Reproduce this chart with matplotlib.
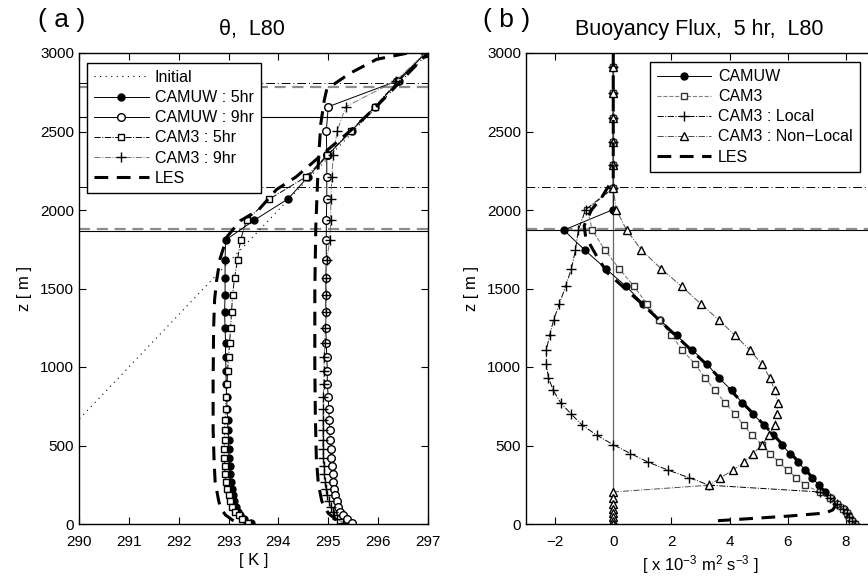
import numpy as np
import matplotlib.pyplot as plt

plt.rcParams['font.family'] = ['Liberation Sans', 'DejaVu Sans']
plt.rcParams['mathtext.fontset'] = 'custom'
plt.rcParams['mathtext.rm'] = 'Liberation Sans'
plt.rcParams['mathtext.it'] = 'Liberation Sans:italic'

# ---- panel (a): potential temperature on model mid levels ----
z_mid = [2998, 2822, 2658, 2505, 2350, 2210, 2070, 1936, 1809, 1682, 1569, 1459,
         1350, 1250, 1153, 1064, 975, 892, 810, 734, 664, 597, 533, 478,
         420, 369, 318, 270, 225, 183, 145, 110, 78, 57, 34, 8]
camuw_5hr = [296.94, 296.42, 295.94, 295.47, 294.99, 294.59, 294.19, 293.52, 292.94, 292.93,
             292.93, 292.93, 292.92, 292.93, 292.94, 292.94, 292.95, 292.95, 292.96, 292.97,
             292.98, 292.99, 293.00, 293.00, 293.01, 293.02, 293.03, 293.04, 293.06, 293.08,
             293.11, 293.14, 293.18, 293.23, 293.30, 293.45]
camuw_9hr = [296.95, 296.38, 295.00, 294.96, 294.97, 294.97, 294.97, 294.96, 294.96, 294.96,
             294.95, 294.95, 294.95, 294.95, 294.96, 294.97, 294.98, 294.98, 295.00, 295.01,
             295.02, 295.03, 295.04, 295.05, 295.06, 295.07, 295.09, 295.10, 295.12, 295.14,
             295.17, 295.20, 295.24, 295.30, 295.37, 295.47]
cam3_5hr = [296.94, 296.40, 295.93, 295.45, 294.98, 294.55, 293.82, 293.36, 293.24, 293.18,
            293.12, 293.08, 293.06, 293.04, 293.02, 293.00, 292.98, 292.97, 292.95, 292.94,
            292.93, 292.92, 292.92, 292.91, 292.91, 292.92, 292.93, 292.94, 292.96, 293.00,
            293.03, 293.07, 293.13, 293.20, 293.26, 293.38]
cam3_9hr = [296.94, 296.35, 295.35, 295.18, 295.10, 295.07, 295.05, 295.05, 295.03, 294.97,
            294.96, 294.96, 294.95, 294.94, 294.93, 294.92, 294.91, 294.91, 294.90, 294.90,
            294.89, 294.89, 294.89, 294.89, 294.90, 294.91, 294.92, 294.93, 294.95, 294.98,
            295.01, 295.05, 295.09, 295.12, 295.17, 295.30]
init_z = [0, 3000]
init_T = [288.0, 297.0]
les5_z = [20, 57, 100, 150, 270, 400, 600, 900, 1250, 1430, 1550, 1690, 1830, 1930,
          2000, 2130, 2210, 2360, 2520, 2660, 2820, 3000]
les5_T = [293.10, 292.94, 292.84, 292.80, 292.73, 292.71, 292.69, 292.69, 292.70, 292.72,
          292.76, 292.83, 292.97, 293.23, 293.60, 293.96, 294.35, 294.90, 295.50, 295.97,
          296.45, 297.00]
les9_z = [25, 68, 145, 257, 420, 700, 1000, 1500, 1900, 2300, 2550, 2700, 2770, 2870, 2960, 3000]
les9_T = [295.17, 295.00, 294.87, 294.80, 294.76, 294.74, 294.73, 294.73, 294.75, 294.80,
          294.85, 294.92, 294.97, 295.43, 295.97, 296.60]
pbl_a_solid = [1866, 2590]
pbl_a_dashdot = [2146, 2808]
pbl_a_gray = [1878, 2783]

# ---- panel (b): buoyancy flux on interfaces ----
z_int = [3080, 2913, 2744, 2584, 2435, 2287, 2140, 2003, 1872, 1745, 1625, 1514, 1404,
         1300, 1201, 1108, 1020, 933, 851, 772, 699, 630, 565, 505, 449, 394, 343, 294,
         247, 204, 164, 128, 94, 67, 46, 21, 0]
camuw_b = [0, 0, 0, 0, 0, 0, 0, 0, -1.70, -0.98, -0.25, 0.44, 1.03, 1.60, 2.18, 2.72, 3.22,
           3.62, 4.07, 4.43, 4.80, 5.20, 5.48, 5.80, 6.07, 6.36, 6.60, 6.85, 7.07, 7.29, 7.50,
           7.70, 7.92, 8.04, 8.12, 8.22, 8.32]
cam3_b = [0, 0, 0, 0, 0, 0, 0, -0.89, -0.72, -0.29, 0.21, 0.71, 1.15, 1.58, 2.00, 2.38, 2.80,
          3.15, 3.49, 3.85, 4.19, 4.48, 4.78, 5.12, 5.40, 5.70, 6.00, 6.30, 6.60, 7.10, 7.45,
          7.70, 7.90, 8.03, 8.12, 8.22, 8.32]
local_b = [0, 0, 0, 0, 0, 0, 0, -0.95, -1.20, -1.30, -1.44, -1.64, -1.85, -2.05, -2.19, -2.30,
           -2.30, -2.23, -2.06, -1.81, -1.44, -1.07, -0.56, 0.00, 0.59, 1.20, 1.89, 2.62, 3.30,
           7.10, 7.45, 7.70, 7.90, 8.03, 8.12, 8.22, 8.32]
nonlocal_b = [0, 0, 0, 0, 0, 0, 0, 0.10, 0.46, 0.97, 1.65, 2.35, 3.00, 3.63, 4.19, 4.70, 5.10,
              5.38, 5.55, 5.66, 5.63, 5.55, 5.34, 5.12, 4.81, 4.50, 4.11, 3.68, 3.30, 0, 0, 0,
              0, 0, 0, 0, 0]
les_b_z = [3000, 2200, 2080, 2000, 1900, 1830, 1700, 1600, 1400, 1200, 1000, 800, 600, 400,
           200, 120, 90, 70, 50, 21]
les_b_v = [0, 0, -0.40, -0.75, -1.00, -0.95, -0.55, -0.20, 1.00, 2.15, 3.30, 4.30, 5.35, 6.35,
           7.30, 7.65, 7.55, 7.30, 6.00, 3.60]
pbl_b_solid = [1872]
pbl_b_dashdot = [2146]
pbl_b_gray = [1879]

fig = plt.figure(figsize=(8.68, 5.78), dpi=100)
axa = fig.add_axes([79 / 868, 54 / 578, 349 / 868, 471 / 578])
axb = fig.add_axes([526 / 868, 54 / 578, 349 / 868, 471 / 578])

les_style = dict(color='k', lw=2.2, dashes=(4.5, 2.8))
leg_opts = dict(loc='upper left', fontsize=11.5, handlelength=3.4, handletextpad=0.4,
                labelspacing=0.32, borderpad=0.45, borderaxespad=0, fancybox=False,
                edgecolor='k', framealpha=1)

# panel a
for z in pbl_a_solid:
    axa.axhline(z, color='k', lw=0.8)
for z in pbl_a_gray:
    axa.axhline(z, color='0.55', lw=1.6, dashes=(5, 3))
for z in pbl_a_dashdot:
    axa.axhline(z, color='k', lw=0.7, dashes=(9, 3, 1, 3))

axa.plot(init_T, init_z, color='k', lw=0.8, ls=(0, (1, 4)), label='Initial')
axa.plot(camuw_5hr, z_mid, '-o', color='k', lw=0.7, ms=5, label='CAMUW : 5hr')
axa.plot(camuw_9hr, z_mid, '-o', color='k', mfc='white', lw=0.7, ms=5.5, label='CAMUW : 9hr')
axa.plot(cam3_5hr, z_mid, 's', color='k', mfc='white', ls='-.', lw=0.7, ms=5,
         label='CAM3 : 5hr')
axa.plot(cam3_9hr, z_mid, '+', color='0.45', mec='k', ls='-.', lw=0.7, ms=7,
         label='CAM3 : 9hr')
axa.plot(les5_T, les5_z, label='LES', **les_style)
axa.plot(les9_T, les9_z, **les_style)

axa.set_xlim(290, 297)
axa.set_ylim(0, 3000)
axa.set_xticks(np.arange(290, 298, 1))
axa.set_yticks(np.arange(0, 3001, 500))
axa.set_xlabel('[ K ]', fontsize=12, labelpad=3)
axa.set_ylabel('z [ m ]', fontsize=12, labelpad=6)
leg = axa.legend(bbox_to_anchor=(0.023, 0.979), **leg_opts)
leg.get_frame().set_linewidth(1.0)

# panel b
axb.axvline(0, color='0.4', lw=0.9)
for z in pbl_b_solid:
    axb.axhline(z, color='k', lw=0.8)
for z in pbl_b_gray:
    axb.axhline(z, color='0.55', lw=1.6, dashes=(5, 3))
for z in pbl_b_dashdot:
    axb.axhline(z, color='k', lw=0.7, dashes=(9, 3, 1, 3))

axb.plot(camuw_b, z_int, '-o', color='k', lw=0.7, ms=5, label='CAMUW')
axb.plot(cam3_b, z_int, 's', color='0.5', mec='0.2', mfc='white', ls='--', lw=0.8, ms=5,
         label='CAM3')
axb.plot(local_b, z_int, '+', color='k', ls='-.', lw=0.7, ms=7, label='CAM3 : Local')
axb.plot(nonlocal_b, z_int, '^', color='0.3', mec='k', mfc='white', ls='-.', lw=0.7, ms=6,
         label='CAM3 : Non\u2212Local')
axb.plot(les_b_v, les_b_z, label='LES', **les_style)

axb.set_xlim(-3, 9)
axb.set_ylim(0, 3000)
axb.set_xticks(np.arange(-2, 9, 2))
axb.set_xticklabels(['\u22122', '0', '2', '4', '6', '8'])
axb.set_yticks(np.arange(0, 3001, 500))
axb.set_xlabel(r'[ x 10$^{\mathregular{-3}}$ m$^{\mathregular{2}}$ s$^{\mathregular{-3}}$ ]',
               fontsize=12, labelpad=3)
axb.set_ylabel('z [ m ]', fontsize=12, labelpad=6)
leg = axb.legend(bbox_to_anchor=(0.355, 0.981), **leg_opts)
leg.get_frame().set_linewidth(1.0)

for ax in (axa, axb):
    ax.tick_params(direction='in', top=True, right=True, length=5, width=0.8, labelsize=11)
    ax.tick_params(axis='x', pad=8)
    for s in ax.spines.values():
        s.set_linewidth(1.0)

fig.text(38 / 868, 1 - 20 / 578, '( a )', fontsize=19, va='center', ha='left')
fig.text(252 / 868, 1 - 29 / 578, '\u03b8,  L80', fontsize=15.5, va='center', ha='center')
fig.text(483 / 868, 1 - 20 / 578, '( b )', fontsize=19, va='center', ha='left')
fig.text(699 / 868, 1 - 29 / 578, 'Buoyancy Flux,  5 hr,  L80', fontsize=15.5,
         va='center', ha='center')

fig.savefig('out.png', dpi=100)
